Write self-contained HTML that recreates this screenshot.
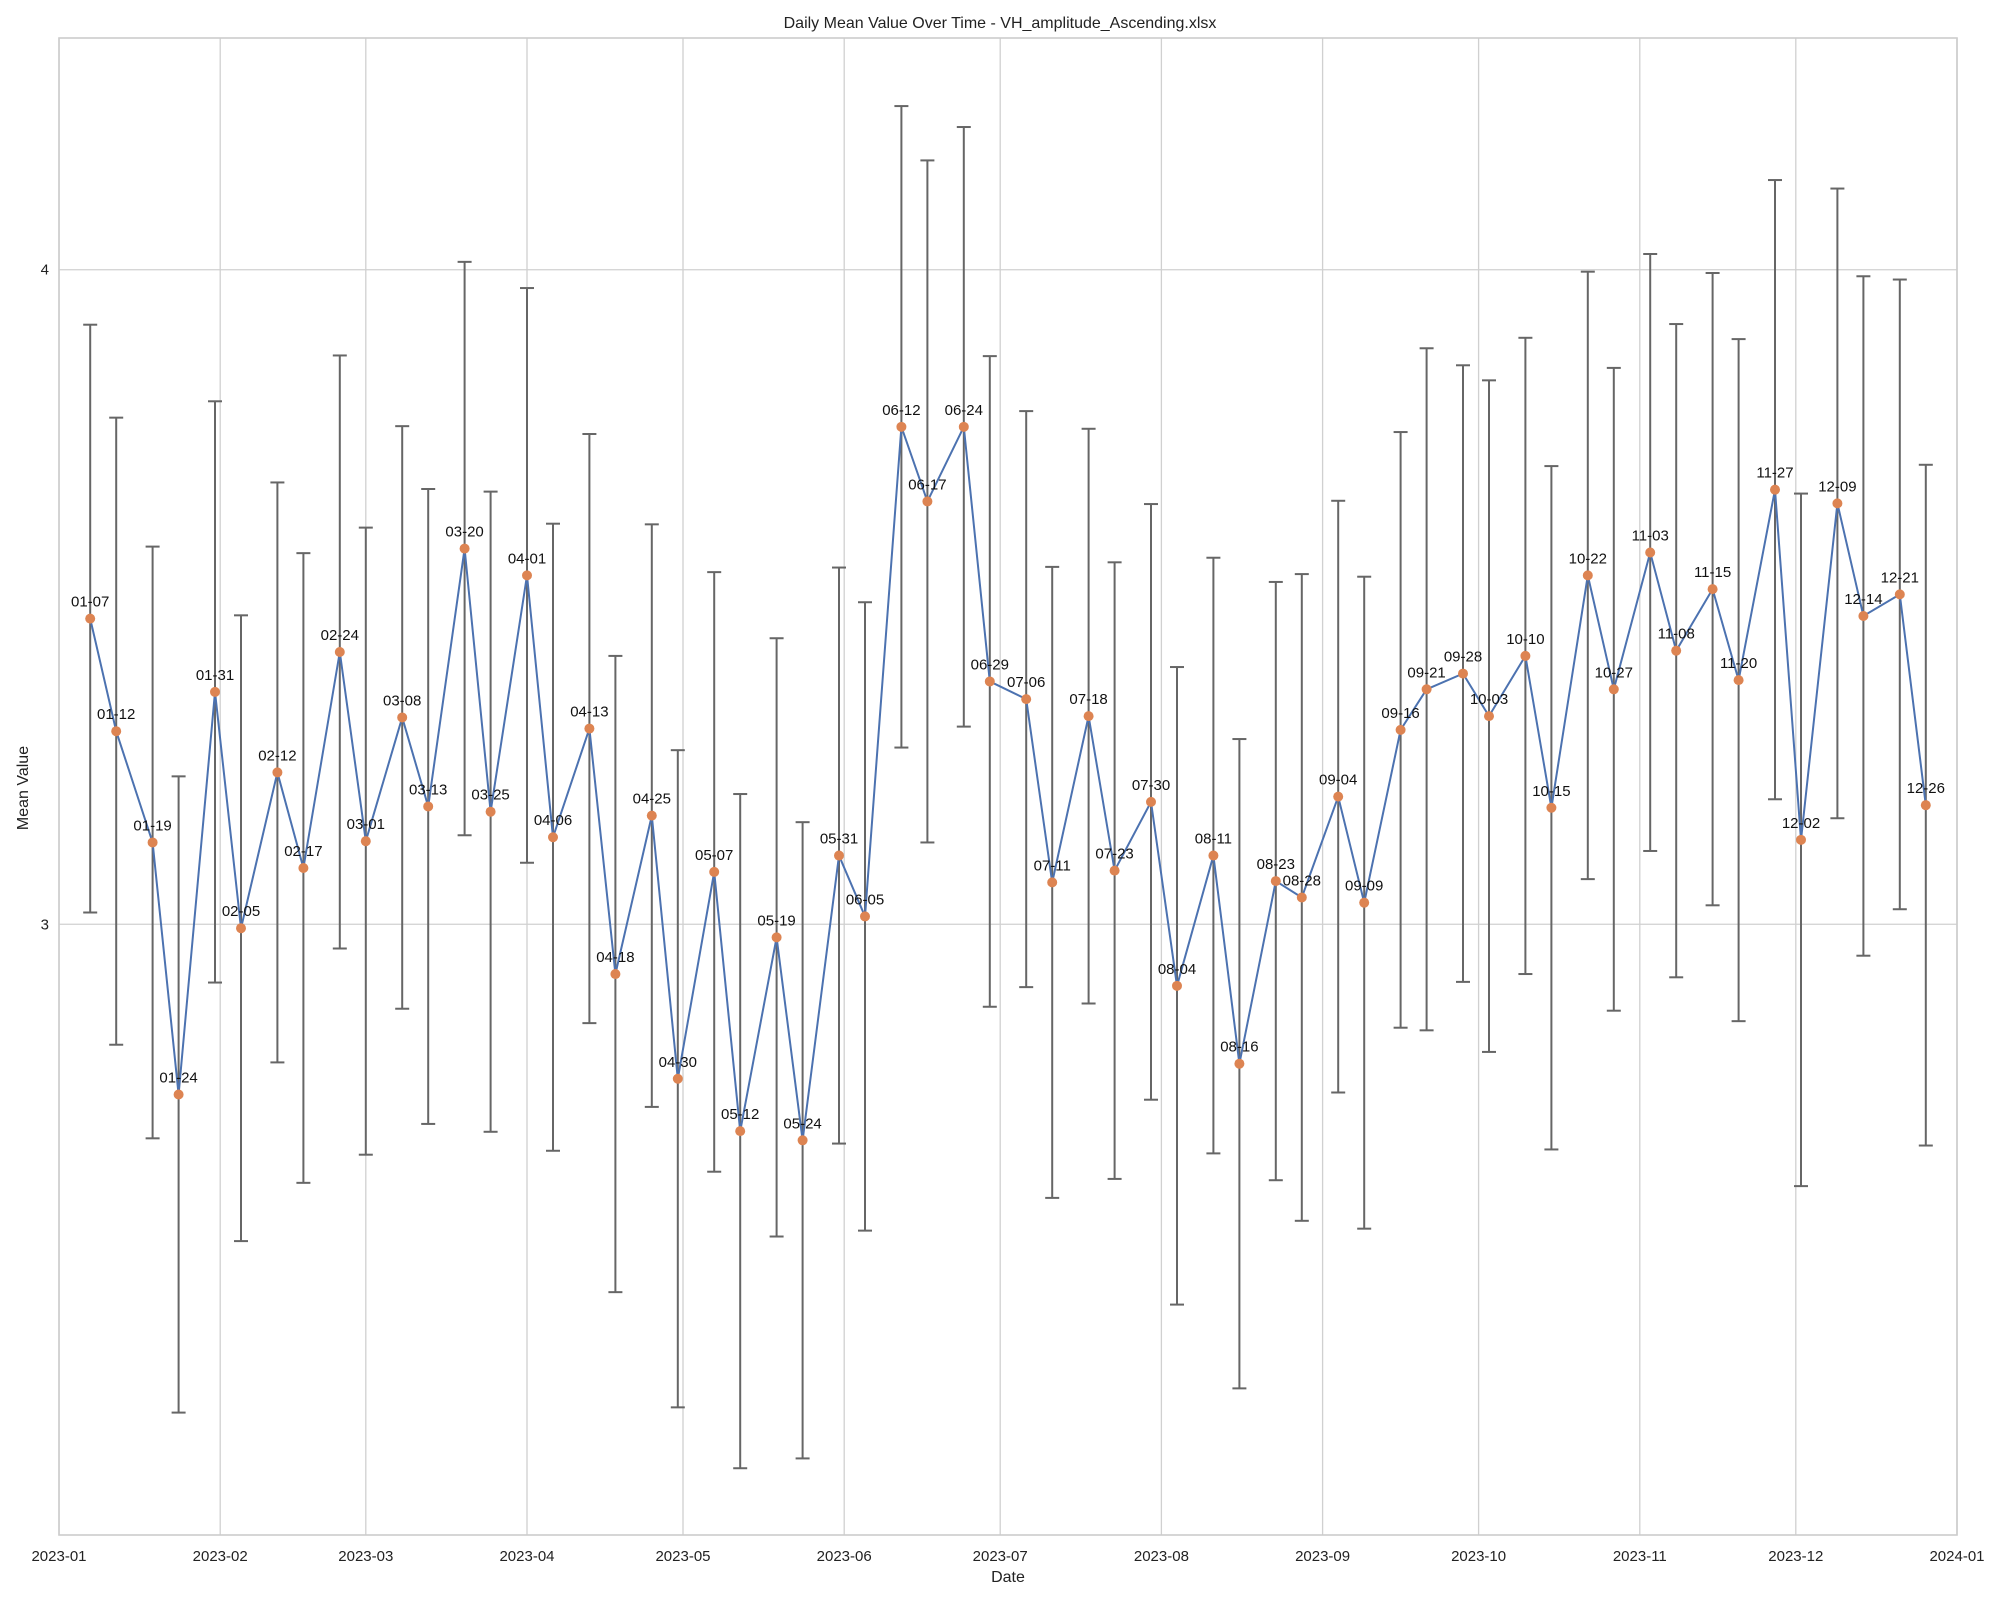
<!DOCTYPE html>
<html><head><meta charset="utf-8"><style>
body{margin:0;background:#fff}
svg{display:block;font-family:"Liberation Sans",Arial,sans-serif}
</style></head><body>
<svg id="chart" width="2000" height="1600" viewBox="0 0 2000 1600">
<text x="1000" y="28" font-size="16" text-anchor="middle" fill="#222">Daily Mean Value Over Time - VH_amplitude_Ascending.xlsx</text>
<g id="grid"></g>
<g id="marks"></g>
<text x="1008" y="1582" font-size="16" text-anchor="middle" fill="#222">Date</text>
<text x="28" y="788" font-size="16" text-anchor="middle" fill="#222" transform="rotate(-90 28 788)">Mean Value</text>
</svg>
<script>
const dates = ["01-07","01-12","01-19","01-24","01-31","02-05","02-12","02-17","02-24","03-01","03-08","03-13","03-20","03-25","04-01","04-06","04-13","04-18","04-25","04-30","05-07","05-12","05-19","05-24","05-31","06-05","06-12","06-17","06-24","06-29","07-06","07-11","07-18","07-23","07-30","08-04","08-11","08-16","08-23","08-28","09-04","09-09","09-16","09-21","09-28","10-03","10-10","10-15","10-22","10-27","11-03","11-08","11-15","11-20","11-27","12-02","12-09","12-14","12-21","12-26"];
const means = [3.467,3.295,3.125,2.740,3.355,2.994,3.232,3.086,3.416,3.127,3.316,3.180,3.574,3.172,3.533,3.133,3.299,2.924,3.166,2.764,3.080,2.684,2.980,2.670,3.105,3.012,3.760,3.646,3.760,3.371,3.344,3.064,3.318,3.082,3.187,2.906,3.105,2.787,3.066,3.041,3.195,3.033,3.297,3.359,3.383,3.318,3.410,3.178,3.533,3.359,3.568,3.418,3.512,3.373,3.664,3.129,3.643,3.471,3.504,3.182];
const errs = [.449,.479,.452,.486,.444,.478,.443,.481,.453,.479,.445,.485,.438,.489,.439,.479,.450,.486,.445,.502,.458,.515,.457,.486,.440,.480,.490,.521,.458,.497,.440,.482,.439,.471,.455,.487,.455,.496,.457,.494,.452,.498,.455,.521,.471,.513,.486,.522,.464,.491,.456,.499,.483,.521,.473,.529,.481,.519,.481,.520];
const monthTicks = ["2023-01","2023-02","2023-03","2023-04","2023-05","2023-06","2023-07","2023-08","2023-09","2023-10","2023-11","2023-12","2024-01"];
const yTicks = [3,4];

const L=59,R=1957,T=38,B=1535;
const t0=Date.UTC(2023,0,1), t1=Date.UTC(2024,0,1);
const yMin=2.067, yMax=4.354;
function xs(ms){return L+(ms-t0)/(t1-t0)*(R-L);}
function ys(v){return B-(v-yMin)/(yMax-yMin)*(B-T);}
function dms(s){const p=s.split("-");return Date.UTC(2023,+p[0]-1,+p[1]);}
const NS="http://www.w3.org/2000/svg";
function mk(tag,attrs,parent){const e=document.createElementNS(NS,tag);for(const k in attrs)e.setAttribute(k,attrs[k]);parent.appendChild(e);return e;}
const grid=document.getElementById("grid"), marks=document.getElementById("marks");

monthTicks.forEach(m=>{
  const p=m.split("-");const x=xs(Date.UTC(+p[0],+p[1]-1,1));
  const ln=mk("line",{x1:x,x2:x,y1:T,y2:B,stroke:"#d0d0d0","stroke-width":1.3},grid);
  
  
  const t=mk("text",{x:x,y:B+26,"font-size":15,"text-anchor":"middle",fill:"#222"},grid);
  t.textContent=m;
  
  
});
yTicks.forEach(v=>{
  const y=ys(v);
  const ln=mk("line",{x1:L,x2:R,y1:y,y2:y,stroke:"#d0d0d0","stroke-width":1.3},grid);
  
  
  const t=mk("text",{x:L-10,y:y+5,"font-size":15,"text-anchor":"end",fill:"#222"},grid);
  t.textContent=v;
  
  
});
const frame=mk("rect",{x:L,y:T,width:R-L,height:B-T,fill:"none",stroke:"#cccccc","stroke-width":1.6},grid);



dates.forEach((d,i)=>{
  const x=xs(dms(d)), y1=ys(means[i]+errs[i]), y2=ys(means[i]-errs[i]);
  const g=mk("g",{stroke:"#666","stroke-width":2},marks);
  
  
  mk("line",{x1:x,x2:x,y1:y1,y2:y2},g);
  mk("line",{x1:x-7,x2:x+7,y1:y1,y2:y1},g);
  mk("line",{x1:x-7,x2:x+7,y1:y2,y2:y2},g);
});
const pts=dates.map((d,i)=>xs(dms(d))+","+ys(means[i])).join(" ");
const line=mk("polyline",{points:pts,fill:"none",stroke:"#4c72b0","stroke-width":2},marks);


dates.forEach((d,i)=>{
  const x=xs(dms(d)), y=ys(means[i]);
  const c=mk("circle",{cx:x,cy:y,r:5,fill:"#dd8452"},marks);
  
  
  const t=mk("text",{x:x,y:y-12,"font-size":15,"text-anchor":"middle",fill:"#111"},marks);
  t.textContent=d;
  
  
});
</script>
</body></html>
